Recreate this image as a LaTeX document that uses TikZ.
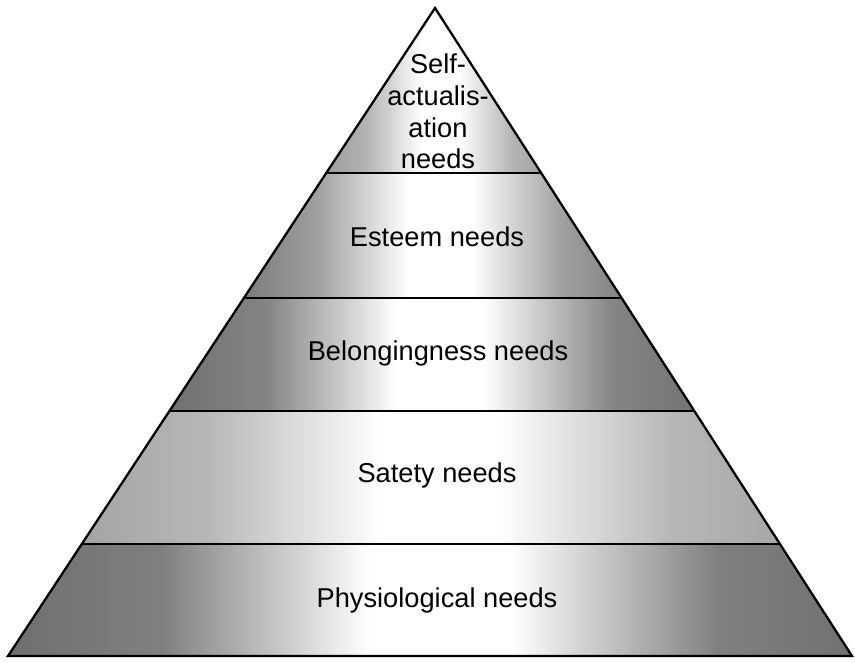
\documentclass[tikz,border=0pt]{standalone}
\usepackage{fontspec}
\setmainfont{Liberation Sans}
\usetikzlibrary{calc}

\colorlet{bandedge}{black!70}
\colorlet{bandmid}{black!35}
\pgfdeclarehorizontalshading[bandedge,bandmid]{bandshade}{100bp}{%
  color(0bp)=(bandedge); color(34bp)=(bandmid); color(46bp)=(white);
  color(54bp)=(white); color(66bp)=(bandmid); color(100bp)=(bandedge)}

% band from #1 to #2, half width #3, edge colour #4, inner colour #5
\newcommand{\pyrband}[5]{%
  \colorlet{bandedge}{#4}\colorlet{bandmid}{#5}%
  \shade[shading=bandshade] (8.8-#3,#1) rectangle (8.8+#3,#2);}

\begin{document}
\begin{tikzpicture}[
  every node/.style={font=\fontsize{15.5}{18.1}\selectfont, align=center},
  edge/.style={line width=1.3pt, black}
]
  \useasboundingbox (0,0) rectangle (17.1,13.24);

  \coordinate (L) at (0.16, 0.12);
  \coordinate (R) at (17.04, 0.12);
  \coordinate (A) at (8.70, 13.08);

  % grey bands, clipped to the triangle
  \begin{scope}
    \clip (L) -- (R) -- (A) -- cycle;
    \pyrband{0.12}{2.36}{8.7}{black!75}{black!50}
    \pyrband{2.36}{5.02}{7.2}{black!58}{black!28}
    \pyrband{5.02}{7.28}{5.4}{black!78}{black!48}
    \pyrband{7.28}{9.78}{3.9}{black!88}{black!38}
    \pyrband{9.78}{13.1}{2.3}{black!62}{black!30}
  \end{scope}

  \draw[edge] (L) -- (R) -- (A) -- cycle;
  \foreach \t in {0.1728, 0.3781, 0.5525, 0.7454}
    \draw[edge] ($(L)!\t!(A)$) -- ($(R)!\t!(A)$);

  \node (self)   at (8.76, 11.01) {Self-\\actualis-\\ation\\needs};
  \node (esteem) at (8.74, 8.50)  {Esteem needs};
  \node (belong) at (8.76, 6.18)  {Belongingness needs};
  \node (safety) at (8.74, 3.74)  {Satety needs};
  \node (phys)   at (8.74, 1.24)  {Physiological needs};
\end{tikzpicture}
\end{document}
